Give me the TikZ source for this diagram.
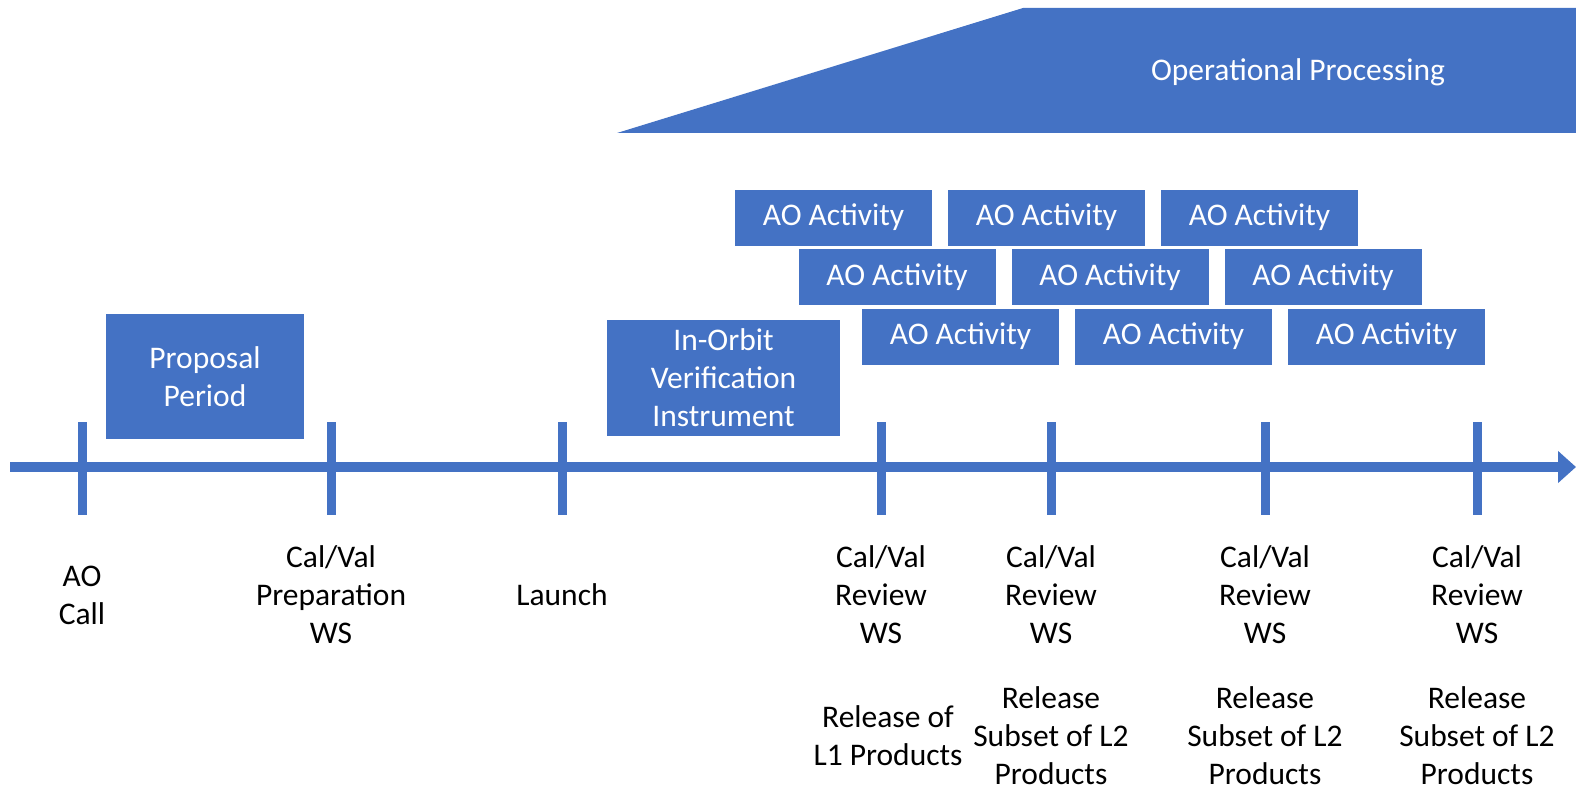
\documentclass[tikz,border=0pt]{standalone}
\usepackage{fontspec}
\setmainfont{Carlito}
\usetikzlibrary{arrows.meta}
\definecolor{pblue}{HTML}{4472C4}
\begin{document}
\begin{tikzpicture}[x=1pt,y=-1pt,line cap=butt,
  box/.style={fill=pblue,text=white,inner sep=0pt,align=center},
  tick/.style={pblue,line width=9pt},
  lbl/.style={align=center,text=black},
  every node/.append style={font=\fontsize{31.5}{38}\selectfont}]
  \useasboundingbox (0,0) rectangle (1576,789);
  \fill[pblue] (617,133) -- (1023,8) -- (1576,8) -- (1576,133) -- cycle;
  \node[text=white] (oper) at (1298,72) {Operational Processing};
  \coordinate (tstart) at (10,467);
  \coordinate (tend) at (1576,467);
  \draw[pblue,line width=10pt,-{Triangle[width=31pt,length=18pt]}] (tstart) -- (tend);
  \foreach \x in {82,331,562,881,1051,1265,1477}
    \draw[tick] (\x,422) -- (\x,515);
  \node[box,minimum width=198pt,minimum height=125pt] (prop) at (205,376.5) {Proposal\\Period};
  \node[box,minimum width=233pt,minimum height=116pt] (iov) at (723.5,378) {In-Orbit\\Verification\\Instrument};
  \foreach \r in {0,1,2}
    \foreach \c in {0,1,2}
      \node[box,minimum width=197pt,minimum height=56pt] (act-\r-\c)
        at (833.5+213*\c+63.5*\r,217.5+59.5*\r) {AO Activity};
  \node[lbl] (aocall) at (82,595) {AO\\Call};
  \node[lbl] (prep) at (331,595) {Cal/Val\\Preparation\\WS};
  \node[lbl] (launch) at (562,595) {Launch};
  \node[lbl] (rev1) at (881,595) {Cal/Val\\Review\\WS};
  \node[lbl] (rev2) at (1051,595) {Cal/Val\\Review\\WS};
  \node[lbl] (rev3) at (1265,595) {Cal/Val\\Review\\WS};
  \node[lbl] (rev4) at (1477,595) {Cal/Val\\Review\\WS};
  \node[lbl] (rel1) at (888,736) {Release of\\L1 Products};
  \node[lbl] (rel2) at (1051,736) {Release\\Subset of L2\\Products};
  \node[lbl] (rel3) at (1265,736) {Release\\Subset of L2\\Products};
  \node[lbl] (rel4) at (1477,736) {Release\\Subset of L2\\Products};
\end{tikzpicture}
\end{document}
